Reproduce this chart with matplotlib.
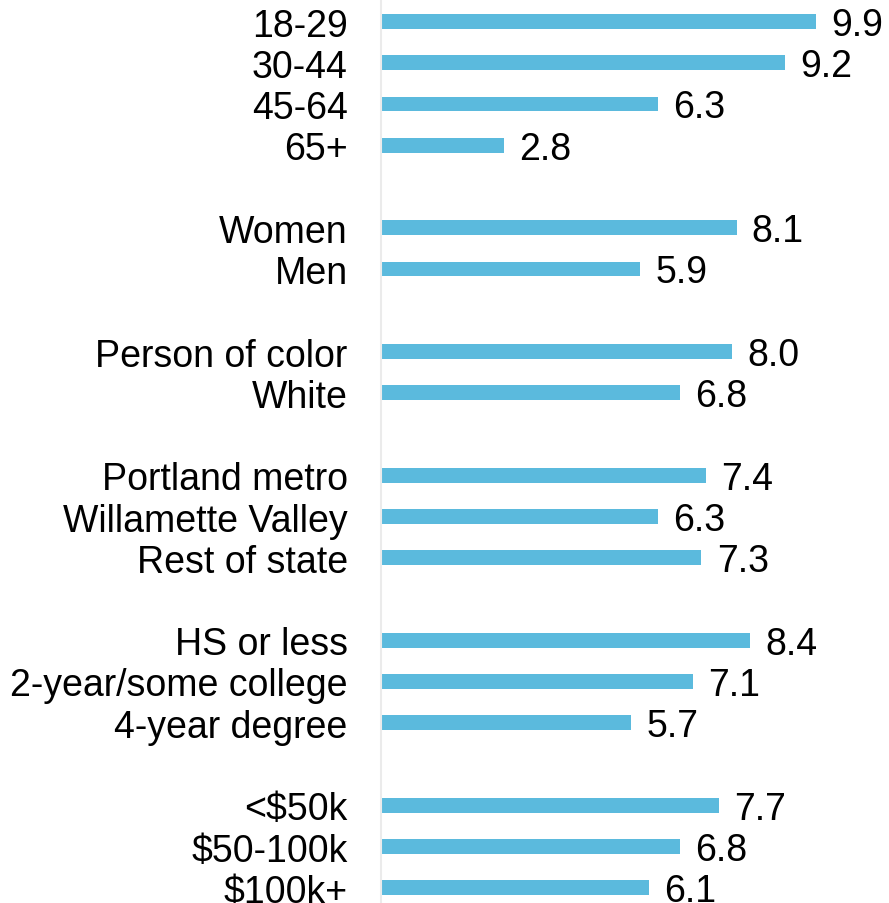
import matplotlib
matplotlib.use("Agg")
import matplotlib.pyplot as plt

# rows of each group, top to bottom
groups = [
    ["18-29", "30-44", "45-64", "65+"],
    ["Women", "Men"],
    ["Person of color", "White"],
    ["Portland metro", "Willamette Valley", "Rest of state"],
    ["HS or less", "2-year/some college", "4-year degree"],
    ["<$50k", "$50-100k", "$100k+"],
]
values = [
    [9.9, 9.2, 6.3, 2.8],
    [8.1, 5.9],
    [8.0, 6.8],
    [7.4, 6.3, 7.3],
    [8.4, 7.1, 5.7],
    [7.7, 6.8, 6.1],
]

bar_color = "#5bbadd"
font = "Liberation Sans"
fontsize = 27

# one blank slot between groups
labels, vals, ypos = [], [], []
slot = 0
for names, nums in zip(groups, values):
    for n, v in zip(names, nums):
        labels.append(n)
        vals.append(v)
        ypos.append(slot)
        slot += 1
    slot += 1

fig = plt.figure(figsize=(8.89, 9.04), dpi=100)
ax = fig.add_axes([381 / 889, 0, 1 - 381 / 889, 1])

ax.barh(ypos, vals, height=0.36, color=bar_color)
for y, v in zip(ypos, vals):
    ax.annotate(f"{v:.1f}", (v, y), xytext=(11, -2.5), textcoords="offset points",
                ha="left", va="center", fontsize=fontsize, family=font)

ax.set_xlim(0, 508 / 43.9)
ax.set_ylim((904 - 22.5) / 41.25, -22.5 / 41.25)
ax.set_yticks(ypos)
ax.set_yticklabels(labels, fontsize=fontsize, family=font)
ax.tick_params(axis="y", length=0, pad=24)
ax.set_xticks([])
for s in ["top", "right", "bottom"]:
    ax.spines[s].set_visible(False)
ax.spines["left"].set_color("#ebebeb")
ax.spines["left"].set_linewidth(1.5)

fig.savefig("out.png", dpi=100)
